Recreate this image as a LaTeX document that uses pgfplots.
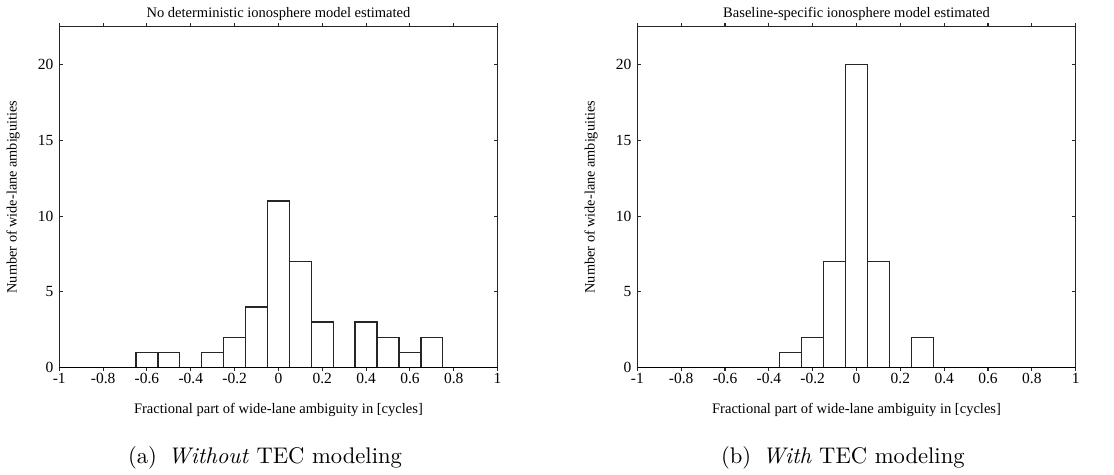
\documentclass[border=0pt]{standalone}
\usepackage{fontspec}
\usepackage{pgfplots}
\pgfplotsset{compat=1.18}
\newfontfamily\lib{Liberation Serif}
\pgfplotsset{
  histo/.style={
    scale only axis, width=184.1pt, height=143.2pt, anchor=south west,
    xmin=-1, xmax=1, ymin=0, ymax=22.5,
    xtick={-1,-0.8,-0.6,-0.4,-0.2,0,0.2,0.4,0.6,0.8,1},
    ytick={0,5,10,15,20},
    tick align=inside, major tick length=1.5pt,
    axis line style={line width=0.45pt, black!85},
    every tick/.style={line width=0.45pt, black!85},
    font=\lib\fontsize{6.5}{7.5}\selectfont,
    /pgf/number format/assume math mode=true,
    yticklabel style={xshift=1pt},
    xticklabel style={yshift=2.6pt},
    title style={at={(axis description cs:0.5,1)}, anchor=center, yshift=-0.8pt, font=\lib\fontsize{6.1}{7}\selectfont},
    xlabel style={at={(axis description cs:0.5,-0.125)}, anchor=center, font=\lib\fontsize{6.1}{7}\selectfont},
    ylabel style={at={(axis description cs:-0.1054,0.5)}, anchor=center, font=\lib\fontsize{6}{7}\selectfont},
    xlabel={Fractional part of wide-lane ambiguity in [cycles]},
    ylabel={Number of wide-lane ambiguities},
    ybar, bar width=0.1, bar shift=0pt,
  },
  hbar/.style={draw=black!85, fill=white, line width=0.55pt},
}
\begin{document}
\begin{tikzpicture}
\useasboundingbox (0,0) rectangle (467.9pt,199.5pt);
\begin{axis}[histo, at={(24.9pt,45.1pt)},
  title={No deterministic ionosphere model estimated}]
\addplot[hbar] coordinates {(-0.6,1) (-0.5,1) (-0.3,1) (-0.2,2) (-0.1,4) (0,11) (0.1,7) (0.2,3) (0.4,3) (0.5,2) (0.6,1) (0.7,2)};
\addplot[sharp plot, black, line width=0.9pt] coordinates {(-1,0) (1,0)};
\end{axis}
\begin{axis}[histo, at={(267.7pt,45.1pt)},
  title={Baseline-specific ionosphere model estimated}]
\addplot[hbar] coordinates {(-0.3,1) (-0.2,2) (-0.1,7) (0,20) (0.1,7) (0.3,2)};
\addplot[sharp plot, black, line width=0.9pt] coordinates {(-1,0) (1,0)};
\end{axis}
\node[font=\fontsize{9.5}{11.5}\selectfont] at (111.3pt,7pt) {(a)\hspace{0.5em}\textit{Without} TEC modeling};
\node[font=\fontsize{9.5}{11.5}\selectfont] at (354pt,7pt) {(b)\hspace{0.5em}\textit{With} TEC modeling};
\end{tikzpicture}
\end{document}
